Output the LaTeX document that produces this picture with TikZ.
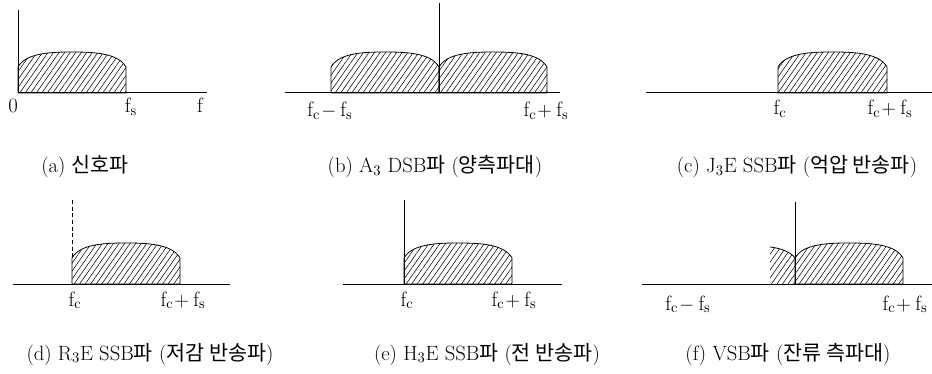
\documentclass[tikz,border=0pt]{standalone}
\usepackage{fontspec}
\newfontfamily\cjk{Noto Sans CJK KR}
\usetikzlibrary{patterns.meta}
\newcommand\mylobe[3]{% x0, width, axis y
  \draw[lobeline, pattern={Lines[angle=55,distance=3.4pt,line width=0.4pt]}]
    (#1,#3) -- ({#1},{#3-26}) .. controls ({#1+8},{#3-40}) and ({#1+0.3*#2},{#3-41}) .. ({#1+0.5*#2},{#3-41})
    .. controls ({#1+0.7*#2},{#3-41}) and ({#1+#2-8},{#3-40}) .. ({#1+#2},{#3-26}) -- ({#1+#2},{#3}) -- cycle;}
\begin{document}
\begin{tikzpicture}[x=0.75pt,y=-0.75pt,
  lobeline/.style={line width=0.6pt},
  axisline/.style={line width=0.75pt},
  lbl/.style={anchor=base,inner sep=0pt,font=\fontsize{15.5}{18}\selectfont},
  captxt/.style={anchor=base,inner sep=0pt,font=\fontsize{15.5}{18}\selectfont}]
\useasboundingbox (0,0) rectangle (932,374);
% (a)
\mylobe{18}{108}{93}
\draw[axisline] (18,10) -- (18,93) -- (207,93);
\node[lbl] (a0) at (13,113) {0};
\node[lbl] (afs) at (131,113) {$\mathrm{f_s}$};
\node[lbl] (af) at (200,113) {f};
\node[captxt] (acap) at (85,173) {(a) {\cjk 신호파}};
% (b)
\mylobe{331}{108}{93}
\mylobe{439}{108}{93}
\draw[axisline] (285,93) -- (560,93);
\draw[axisline] (439,3) -- (439,93);
\node[lbl] (bl) at (330,117) {$\mathrm{f_c\!-f_s}$};
\node[lbl] (br) at (546,117) {$\mathrm{f_c\!+f_s}$};
\node[captxt] (bcap) at (435,173) {(b) A$_3$ DSB{\cjk 파} ({\cjk 양측파대})};
% (c)
\mylobe{778}{109}{93}
\draw[axisline] (646,93) -- (932,93);
\node[lbl] (cl) at (780,115) {$\mathrm{f_c}$};
\node[lbl] (cr) at (890,115) {$\mathrm{f_c\!+f_s}$};
\node[captxt] (ccap) at (797,173) {(c) J$_3$E SSB{\cjk 파} ({\cjk 억압 반송파})};
% (d)
\draw[line width=0.6pt, dash pattern=on 3pt off 2pt] (72,200) -- (72,258);
\mylobe{72}{108}{284}
\draw[axisline] (13,284) -- (230,284);
\node[lbl] (dl) at (75,306) {$\mathrm{f_c}$};
\node[lbl] (dr) at (183,306) {$\mathrm{f_c\!+f_s}$};
\node[captxt] (dcap) at (150,360) {(d) R$_3$E SSB{\cjk 파} ({\cjk 저감 반송파})};
% (e)
\mylobe{404}{108}{284}
\draw[axisline] (404,200) -- (404,284);
\draw[axisline] (343,284) -- (562,284);
\node[lbl] (el) at (407,306) {$\mathrm{f_c}$};
\node[lbl] (er) at (514,306) {$\mathrm{f_c\!+f_s}$};
\node[captxt] (ecap) at (487,360) {(e) H$_3$E SSB{\cjk 파} ({\cjk 전 반송파})};
% (f)
\fill[pattern={Lines[angle=55,distance=3.4pt,line width=0.4pt]}]
  (770,284) -- (770,247) .. controls (780,248) and (791,252) .. (795,258) -- (795,284) -- cycle;
\draw[lobeline] (770,247) .. controls (780,248) and (791,252) .. (795,258);
\mylobe{795}{108}{284}
\draw[axisline] (795,202) -- (795,284);
\draw[axisline] (642,284) -- (932,284);
\node[lbl] (fl) at (688,310) {$\mathrm{f_c\!-f_s}$};
\node[lbl] (fr) at (905,310) {$\mathrm{f_c\!+f_s}$};
\node[captxt] (fcap) at (788,360) {(f) VSB{\cjk 파} ({\cjk 잔류 측파대})};
\end{tikzpicture}
\end{document}
